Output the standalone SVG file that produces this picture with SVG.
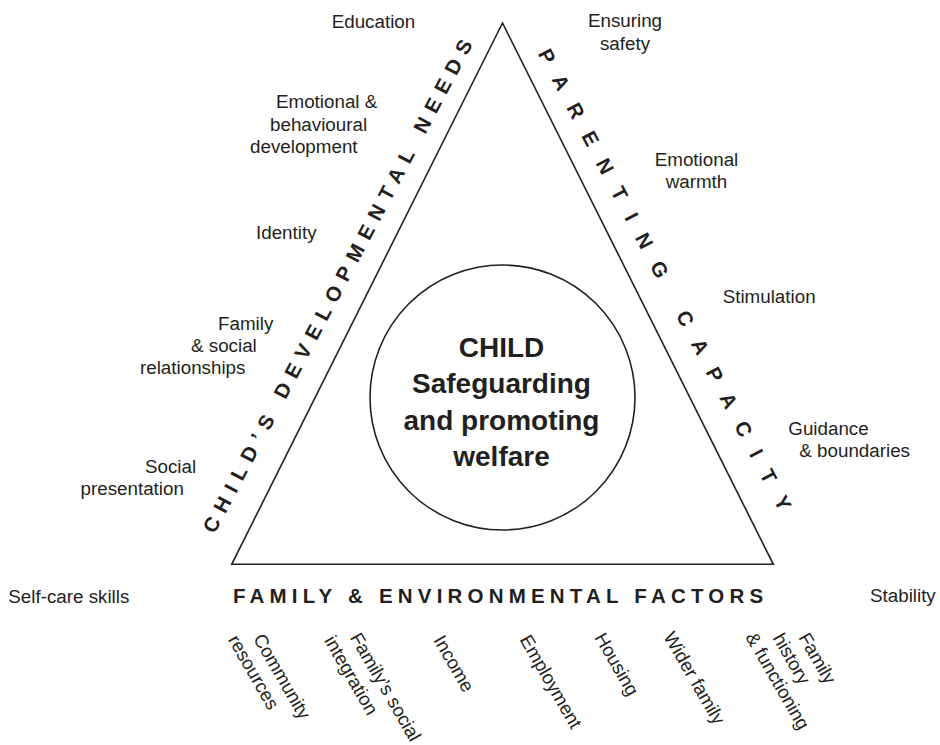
<svg xmlns="http://www.w3.org/2000/svg" width="940" height="745" viewBox="0 0 940 745">
<style>
.lbl{font-family:"Liberation Sans",Arial,sans-serif;font-size:18.8px;fill:#231f20}
.side{font-family:"Liberation Sans",Arial,sans-serif;font-size:20.5px;font-weight:bold;fill:#231f20}
.core{font-family:"Liberation Sans",Arial,sans-serif;font-size:28px;font-weight:bold;fill:#231f20;text-anchor:middle}
.shape{fill:none;stroke:#231f20;stroke-width:1.6}
.mid{text-anchor:middle}
</style>
<rect width="940" height="745" fill="#ffffff"/>
<g id="triangle">
<polygon class="shape" points="502.5,23 231.7,564.3 773.3,564.3" stroke-linejoin="miter"/>
</g>
<g id="child">
<circle class="shape" cx="502.5" cy="397.5" r="132.5"/>
<text class="core" x="501.5" y="356.7">CHILD</text>
<text class="core" x="501.5" y="393">Safeguarding</text>
<text class="core" x="501.5" y="429.5">and promoting</text>
<text class="core" x="501.5" y="466">welfare</text>
</g>
<g id="side-needs">
<text class="side mid" transform="translate(345.8,285.8) rotate(-62.2)" letter-spacing="8.04">CHILD’S DEVELOPMENTAL NEEDS</text>
</g>
<g id="side-parenting">
<text class="side mid" transform="translate(662.5,290.5) rotate(62.2)" letter-spacing="17.1">PARENTING CAPACITY</text>
</g>
<g id="side-family">
<text class="side" x="233" y="603" letter-spacing="5.2">FAMILY &amp; ENVIRONMENTAL FACTORS</text>
</g>
<g id="needs-labels">
<text class="lbl" x="331.7" y="28.3">Education</text>
<text class="lbl" x="276" y="108.3">Emotional &amp;</text>
<text class="lbl" x="270" y="130.7">behavioural</text>
<text class="lbl" x="250" y="153.3">development</text>
<text class="lbl" x="256" y="239.3">Identity</text>
<text class="lbl" x="218" y="330">Family</text>
<text class="lbl" x="191" y="352.3">&amp; social</text>
<text class="lbl" x="140" y="374">relationships</text>
<text class="lbl" x="145" y="473.3">Social</text>
<text class="lbl" x="80.5" y="495">presentation</text>
<text class="lbl" x="8.3" y="603.3">Self-care skills</text>
</g>
<g id="parenting-labels">
<text class="lbl mid" x="625" y="27.3">Ensuring</text>
<text class="lbl mid" x="625" y="50">safety</text>
<text class="lbl mid" x="696.5" y="166">Emotional</text>
<text class="lbl mid" x="696.5" y="188.3">warmth</text>
<text class="lbl" x="722.7" y="302.7">Stimulation</text>
<text class="lbl" x="788.3" y="435">Guidance</text>
<text class="lbl" x="799.3" y="457.3">&amp; boundaries</text>
<text class="lbl" x="870" y="601.7">Stability</text>
</g>
<g id="family-labels">
<text class="lbl" transform="translate(252.8,638.5) rotate(60)">Community</text>
<text class="lbl" transform="translate(227.5,639.7) rotate(60)">resources</text>
<text class="lbl" transform="translate(349.6,637.4) rotate(60)">Family’s social</text>
<text class="lbl" transform="translate(323.8,640.5) rotate(60)">integration</text>
<text class="lbl" transform="translate(432.9,640.1) rotate(60)">Income</text>
<text class="lbl" transform="translate(519.3,639.6) rotate(60)">Employment</text>
<text class="lbl" transform="translate(594.1,637.5) rotate(60)">Housing</text>
<text class="lbl" transform="translate(663,636.4) rotate(60)">Wider family</text>
<text class="lbl" transform="translate(798,637.4) rotate(60)">Family</text>
<text class="lbl" transform="translate(772.2,637.9) rotate(60)">history</text>
<text class="lbl" transform="translate(745,637) rotate(60)">&amp; functioning</text>
</g>
<g id="connectors"/>
</svg>
